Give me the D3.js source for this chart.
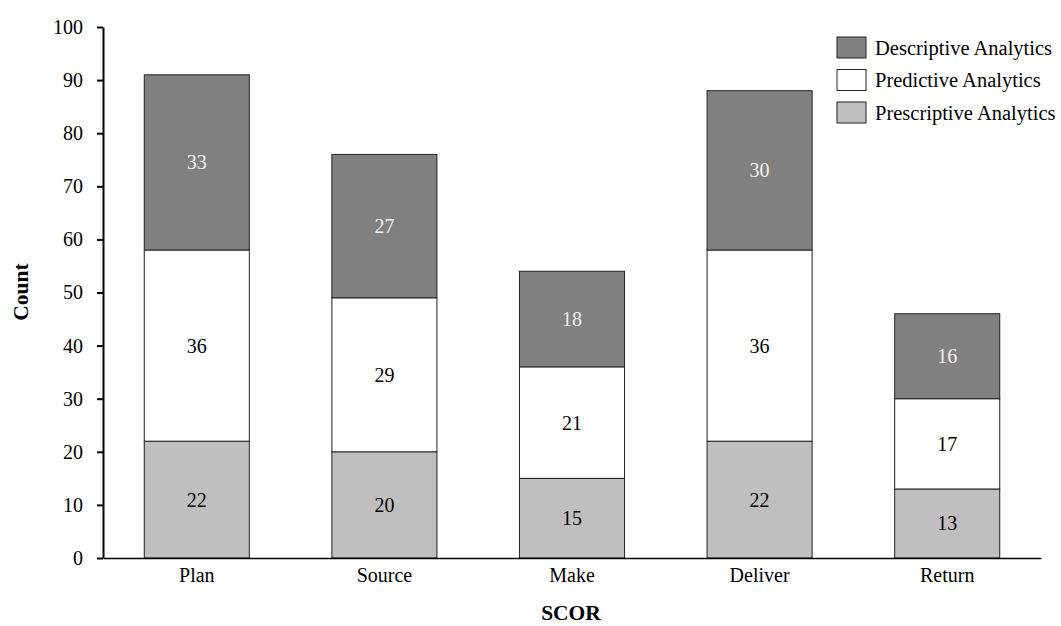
<!DOCTYPE html>
<html><head><meta charset="utf-8">
<script src="https://cdn.jsdelivr.net/npm/d3@7"></script>
<style>body{margin:0;background:#fff}svg{display:block}text{font-family:"Liberation Serif","Times New Roman",serif}</style>
</head><body>
<svg id="c" width="1061" height="626"></svg>
<script>
const categories = ["Plan","Source","Make","Deliver","Return"];
const prescriptive = [22,20,15,22,13];
const predictive = [36,29,21,36,17];
const descriptive = [33,27,18,30,16];
const seriesNames = ["Prescriptive Analytics","Predictive Analytics","Descriptive Analytics"];
const yTicks = [0,10,20,30,40,50,60,70,80,90,100];

const svg = d3.select("#c");
const x = d3.scaleBand().domain(categories).range([103,1041]).paddingInner(0.44).paddingOuter(0.22);
const y = d3.scaleLinear().domain([0,100]).range([558,27]);

const rows = categories.map((c,i)=>({cat:c,"Prescriptive Analytics":prescriptive[i],"Predictive Analytics":predictive[i],"Descriptive Analytics":descriptive[i]}));
const stack = d3.stack().keys(seriesNames)(rows);
const fills = {"Prescriptive Analytics":"#bfbfbf","Predictive Analytics":"#ffffff","Descriptive Analytics":"#808080"};
const labelColors = {"Prescriptive Analytics":"#000","Predictive Analytics":"#000","Descriptive Analytics":"#f2f2f2"};

stack.forEach(s=>{
  const g = svg.append("g");
  g.selectAll("rect").data(s).join("rect")
    .attr("x",d=>x(d.data.cat)).attr("width",x.bandwidth())
    .attr("y",d=>y(d[1])).attr("height",d=>y(d[0])-y(d[1]))
    .attr("fill",fills[s.key]).attr("stroke","#222").attr("stroke-width",1);
  g.selectAll("text").data(s).join("text")
    .attr("x",d=>x(d.data.cat)+x.bandwidth()/2).attr("y",d=>y((d[0]+d[1])/2))
    .attr("dy","0.35em").attr("text-anchor","middle").attr("font-size",20)
    .attr("fill",labelColors[s.key]).text(d=>d[1]-d[0]);
});

// y axis
const ya = svg.append("g").attr("transform","translate(103,0)")
  .call(d3.axisLeft(y).tickValues(yTicks).tickSize(6).tickPadding(14).tickSizeOuter(0));
ya.select(".domain").attr("stroke","#000").attr("stroke-width",2);
ya.selectAll(".tick line").attr("stroke","#000").attr("stroke-width",2);
ya.selectAll(".tick text").attr("font-size",20).attr("fill","#000");

// x axis
const xa = svg.append("g").attr("transform","translate(0,558)")
  .call(d3.axisBottom(x).tickSize(0).tickPadding(10).tickSizeOuter(0));
xa.select(".domain").attr("stroke","#000").attr("stroke-width",1.5);
xa.selectAll(".tick text").attr("font-size",20).attr("fill","#000");

// axis titles
svg.append("text").attr("x",571).attr("y",620).attr("text-anchor","middle")
  .attr("font-size",21.5).attr("font-weight","bold").text("SCOR");
svg.append("text").attr("transform","translate(28,292) rotate(-90)").attr("text-anchor","middle")
  .attr("font-size",21.5).attr("font-weight","bold").text("Count");

// legend
const legendOrder = ["Descriptive Analytics","Predictive Analytics","Prescriptive Analytics"];
const lg = svg.append("g").attr("transform","translate(837,37)");
legendOrder.forEach((k,i)=>{
  lg.append("rect").attr("x",0).attr("y",i*32.5).attr("width",29).attr("height",21)
    .attr("fill",fills[k]).attr("stroke","#222").attr("stroke-width",1);
  lg.append("text").attr("x",38).attr("y",i*32.5+10.5).attr("dy","0.35em")
    .attr("font-size",20.5).attr("fill","#000").text(k);
});
</script>
</body></html>
